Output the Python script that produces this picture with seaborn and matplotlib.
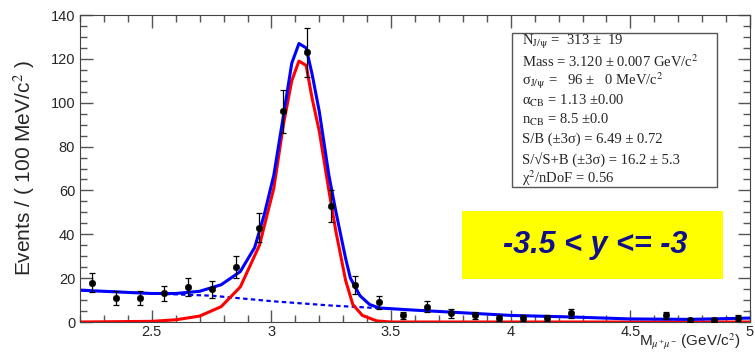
import numpy as np
import pandas as pd
import matplotlib
matplotlib.use("Agg")
import matplotlib.pyplot as plt
import seaborn as sns
from matplotlib.ticker import MultipleLocator

# ---- data ----
bin_centers = [2.25, 2.35, 2.45, 2.55, 2.65, 2.75, 2.85, 2.95, 3.05, 3.15, 3.25, 3.35,
               3.45, 3.55, 3.65, 3.75, 3.85, 3.95, 4.05, 4.15, 4.25,
               4.65, 4.75, 4.85, 4.95]
counts = [18, 11, 11, 13, 16, 15, 25, 43, 96, 123, 53, 17,
          9, 3, 7, 4, 3, 2, 2, 2, 4,
          3, 1, 1, 2]
count_err = [4.2, 3.3, 3.3, 3.6, 4.0, 3.9, 5.0, 6.6, 9.8, 11.1, 7.3, 4.1,
             3.0, 1.7, 2.6, 2.0, 1.7, 1.4, 1.4, 1.4, 2.0,
             1.7, 1.0, 1.0, 1.4]

total_x = [2.2, 2.3, 2.4, 2.5, 2.6, 2.7, 2.79, 2.87, 2.93, 2.97, 3.01, 3.05, 3.085,
           3.115, 3.145, 3.17, 3.2, 3.24, 3.27, 3.31, 3.33, 3.37, 3.41, 3.45,
           3.6, 3.75, 4.0, 4.25, 4.5, 4.75, 5.0]
total_y = [14.5, 14, 13.5, 13, 13, 14, 17, 23, 34, 49, 67, 94, 118,
           127, 125, 113, 96, 67, 50, 29, 20, 12, 8, 6.4,
           5.4, 4.5, 3.0, 2.3, 1.4, 1.2, 1.8]

signal_x = [2.2, 2.5, 2.6, 2.7, 2.79, 2.87, 2.95, 3.01, 3.05, 3.085, 3.115, 3.145,
            3.17, 3.2, 3.24, 3.27, 3.31, 3.34, 3.38, 3.44, 3.5, 5.0]
signal_y = [0, 0.3, 1, 2.7, 7, 16, 35, 61, 90, 110, 119, 117,
            102, 87, 60, 41, 19, 8, 3, 0.5, 0, 0]

bkg_x = [2.2, 2.5, 2.75, 3.0, 3.25, 3.45]
bkg_y = [14.5, 13, 12, 9.5, 7.5, 6.3]

stats_lines = [
    r"N$_{\mathrm{J/\psi}}$ =  313 ±  19",
    r"Mass = 3.120 ± 0.007 GeV/c$^{2}$",
    r"σ$_{\mathrm{J/\psi}}$ =   96 ±   0 MeV/c$^{2}$",
    r"α$_{\mathrm{CB}}$ = 1.13 ±0.00",
    r"n$_{\mathrm{CB}}$ = 8.5 ±0.0",
    r"S/B (±3σ) = 6.49 ± 0.72",
    r"S/√S+B (±3σ) = 16.2 ± 5.3",
    r"χ$^{2}$/nDoF = 0.56",
]
rapidity_label = "-3.5 < y <= -3"

# ---- plotting ----
sns.set_style("ticks")
plt.rcParams["font.family"] = ["Liberation Sans", "DejaVu Sans"]
plt.rcParams["mathtext.fontset"] = "stix"

fig = plt.figure(figsize=(7.55, 3.53), dpi=100)
ax = fig.add_axes([80 / 755, 1 - 322 / 353, 670 / 755, 307 / 353])

df_tot = pd.DataFrame({"x": total_x, "y": total_y})
df_sig = pd.DataFrame({"x": signal_x, "y": signal_y})
df_bkg = pd.DataFrame({"x": bkg_x, "y": bkg_y})

sns.lineplot(data=df_bkg, x="x", y="y", ax=ax, color="#0000ff", lw=1.6,
             linestyle=(0, (2, 1.5)), sort=False)
sns.lineplot(data=df_sig, x="x", y="y", ax=ax, color="#ff0000", lw=2.2, sort=False)
sns.lineplot(data=df_tot, x="x", y="y", ax=ax, color="#0000ff", lw=2.2, sort=False)

ax.errorbar(bin_centers, counts, yerr=count_err, fmt="none", ecolor="black",
            elinewidth=0.9, capsize=2.0, capthick=0.9, zorder=5)
sns.scatterplot(x=bin_centers, y=counts, ax=ax, color="black", s=22,
                edgecolor="black", zorder=6)

ax.set_xlim(2.2, 5.0)
ax.set_ylim(0, 140)
ax.xaxis.set_major_locator(MultipleLocator(0.5))
ax.xaxis.set_minor_locator(MultipleLocator(0.1))
ax.yaxis.set_major_locator(MultipleLocator(20))
ax.yaxis.set_minor_locator(MultipleLocator(5))
ax.set_xticks([2.5, 3, 3.5, 4, 4.5, 5])
ax.set_xticklabels(["2.5", "3", "3.5", "4", "4.5", "5"])
ax.tick_params(which="both", direction="in", top=True, right=True, color="#555555",
               labelsize=10.5)
ax.tick_params(which="major", length=9, width=1)
ax.tick_params(which="minor", length=5, width=1)
ax.tick_params(axis="x", pad=2)
for s in ax.spines.values():
    s.set_color("#444444")
    s.set_linewidth(0.8)

ax.set_xlabel("")
ax.set_ylabel(r"Events / ( 100 MeV/c$^{2}$ )", fontsize=15, labelpad=10)
fig.text(741 / 755, 1 - 352 / 353, r"M$_{\mu^{+}\mu^{-}}$ (GeV/c$^{2}$)", ha="right",
         va="bottom", fontsize=11)

# stats box
box_l, box_r, box_t, box_b = 512, 717, 33, 187
fig.patches.append(plt.Rectangle((box_l / 755, 1 - box_b / 353),
                                 (box_r - box_l) / 755, (box_b - box_t) / 353,
                                 transform=fig.transFigure, facecolor="white",
                                 edgecolor="#555555", lw=1.0, zorder=10))
for i, line in enumerate(stats_lines):
    fig.text(522 / 755, 1 - (42 + 19.5 * i) / 353, line, ha="left", va="center",
             fontsize=10.5, family=["Liberation Serif", "DejaVu Serif"], zorder=11)

# yellow rapidity label
fig.patches.append(plt.Rectangle((462 / 755, 1 - 279 / 353), 261 / 755, 68 / 353,
                                 transform=fig.transFigure, facecolor="#ffff00",
                                 edgecolor="none", zorder=10))
fig.text((462 + 723) / 2 / 755 + 0.003, 1 - 245 / 353, rapidity_label, ha="center",
         va="center", fontsize=22, fontweight="bold", fontstyle="italic",
         color="#10108c", zorder=11, family=["Liberation Sans", "DejaVu Sans"])

fig.savefig("out.png", dpi=100)
